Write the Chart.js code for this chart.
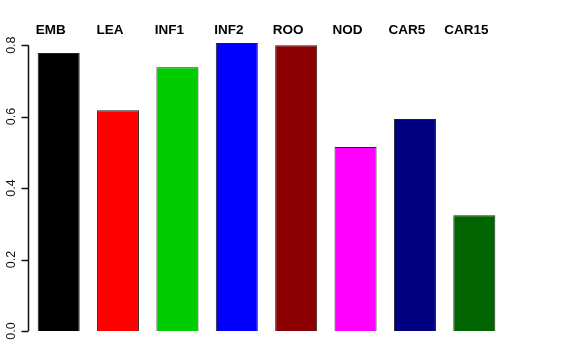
<!DOCTYPE html>
<html>
<head>
<meta charset="utf-8">
<script src="https://cdn.jsdelivr.net/npm/chart.js@4"></script>
<style>
  html, body { margin: 0; padding: 0; background: #fff; }
  #wrap { width: 576px; height: 360px; }
</style>
</head>
<body>
<div id="wrap"><canvas id="barChart" width="576" height="360"></canvas></div>
<script>
// data
const categories = ["EMB", "LEA", "INF1", "INF2", "ROO", "NOD", "CAR5", "CAR15"];
const values = [0.778, 0.618, 0.738, 0.806, 0.800, 0.515, 0.593, 0.324];
const barColors = ["#000000", "#ff0000", "#00cd00", "#0000ff", "#8b0000", "#ff00ff", "#000080", "#006400"];
const yTicks = [0, 0.2, 0.4, 0.6, 0.8];

// R-style axis: line only from first to last tick, plus tick marks
const axisLine = {
  id: "axisLine",
  afterDraw(chart) {
    const y = chart.scales.y;
    const c = chart.ctx;
    const x = Math.round(y.right) - 0.5;
    c.save();
    c.strokeStyle = "#111";
    c.lineWidth = 1.5;
    c.beginPath();
    c.moveTo(x, y.getPixelForValue(yTicks[0]));
    c.lineTo(x, y.getPixelForValue(yTicks[yTicks.length - 1]));
    yTicks.forEach(v => {
      const py = Math.round(y.getPixelForValue(v)) + 0.5;
      c.moveTo(x, py);
      c.lineTo(x - 7, py);
    });
    c.stroke();
    c.restore();
  }
};

const ctx = document.getElementById("barChart").getContext("2d");
new Chart(ctx, {
  type: "bar",
  data: {
    labels: categories,
    datasets: [{
      data: values,
      backgroundColor: barColors,
      borderColor: "#222",
      borderWidth: 1,
      categoryPercentage: 1,
      barPercentage: 0.708
    }]
  },
  options: {
    responsive: false,
    animation: false,
    layout: { padding: { left: 0, right: 72, top: 0, bottom: 29 } },
    plugins: { legend: { display: false }, tooltip: { enabled: false } },
    scales: {
      x: {
        position: "top",
        grid: { display: false, drawTicks: false },
        border: { display: false },
        ticks: {
          color: "#000",
          padding: 0,
          labelOffset: -8,
          font: { family: "Liberation Sans", size: 13.5, weight: "bold" }
        },
        afterFit: s => { s.height = 38; }
      },
      y: {
        min: 0,
        max: 0.82,
        grid: { display: false, drawTicks: false },
        border: { display: false },
        afterBuildTicks: s => { s.ticks = yTicks.map(v => ({ value: v })); },
        ticks: {
          color: "#111",
          padding: 9,
          crossAlign: "center",
          minRotation: 90,
          maxRotation: 90,
          font: { family: "Liberation Sans", size: 12.5 },
          callback: v => Number(v).toFixed(1)
        },
        afterFit: s => { s.width = 29; }
      }
    }
  },
  plugins: [axisLine]
});
</script>
</body>
</html>
